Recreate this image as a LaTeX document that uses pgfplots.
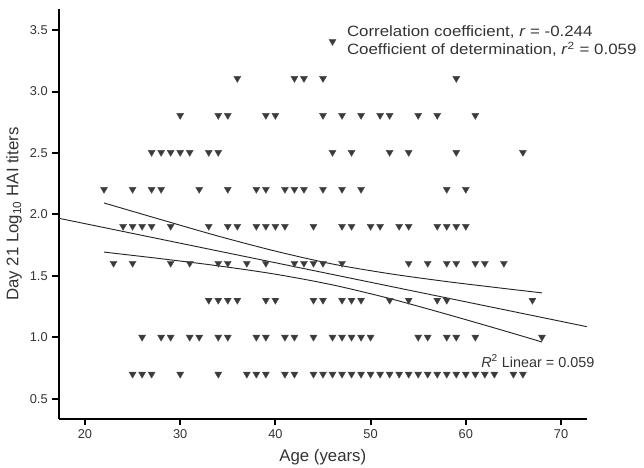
\documentclass[border=0pt]{standalone}
\usepackage{fontspec}
\setmainfont{Liberation Sans}
\usepackage{pgfplots}
\pgfplotsset{compat=1.18}
\usepackage{pgfplotstable}
\definecolor{txtgray}{HTML}{333333}
\definecolor{mkgray}{HTML}{3A3A3A}

% age (years) vs day 21 log10 HAI titer
\pgfplotstableread{
age titer
46 3.408
36 3.107
42 3.107
43 3.107
45 3.107
59 3.107
30 2.806
34 2.806
35 2.806
39 2.806
40 2.806
45 2.806
47 2.806
49 2.806
51 2.806
52 2.806
55 2.806
57 2.806
61 2.806
27 2.505
28 2.505
29 2.505
30 2.505
31 2.505
33 2.505
34 2.505
46 2.505
48 2.505
52 2.505
54 2.505
59 2.505
66 2.505
22 2.204
25 2.204
27 2.204
28 2.204
32 2.204
35 2.204
38 2.204
39 2.204
41 2.204
42 2.204
43 2.204
45 2.204
47 2.204
49 2.204
58 2.204
60 2.204
24 1.903
25 1.903
26 1.903
27 1.903
29 1.903
33 1.903
35 1.903
36 1.903
38 1.903
39 1.903
40 1.903
41 1.903
44 1.903
47 1.903
48 1.903
50 1.903
51 1.903
53 1.903
54 1.903
57 1.903
58 1.903
59 1.903
60 1.903
23 1.602
25 1.602
29 1.602
31 1.602
34 1.602
35 1.602
37 1.602
39 1.602
42 1.602
43 1.602
44 1.602
45 1.602
47 1.602
54 1.602
56 1.602
58 1.602
59 1.602
61 1.602
62 1.602
64 1.602
33 1.301
34 1.301
35 1.301
36 1.301
39 1.301
40 1.301
44 1.301
45 1.301
47 1.301
48 1.301
49 1.301
52 1.301
54 1.301
57 1.301
58 1.301
67 1.301
26 1.000
28 1.000
29 1.000
31 1.000
32 1.000
34 1.000
35 1.000
38 1.000
39 1.000
41 1.000
42 1.000
44 1.000
46 1.000
47 1.000
48 1.000
49 1.000
50 1.000
55 1.000
56 1.000
58 1.000
59 1.000
61 1.000
68 1.000
25 0.699
26 0.699
27 0.699
30 0.699
34 0.699
37 0.699
38 0.699
39 0.699
41 0.699
42 0.699
44 0.699
45 0.699
46 0.699
47 0.699
48 0.699
49 0.699
50 0.699
51 0.699
52 0.699
53 0.699
54 0.699
55 0.699
56 0.699
57 0.699
58 0.699
59 0.699
60 0.699
61 0.699
62 0.699
63 0.699
65 0.699
66 0.699
}\hai

% 95% band
\pgfplotstableread{
age upper lower
22 2.093 1.693
28 1.957 1.639
34 1.823 1.581
40 1.701 1.513
46 1.596 1.426
52 1.517 1.315
58 1.453 1.187
64 1.397 1.053
68 1.361 0.961
}\band

\begin{document}
\begin{tikzpicture}
\begin{axis}[
    name=ax,
    width=395.8pt, height=307pt,
    scale only axis,
    xmin=17.27, xmax=72.7,
    ymin=0.337, ymax=3.67,
    axis x line*=bottom,
    axis y line*=left,
    axis line style={line width=1.5pt, black},
    xtick={20,30,...,70},
    ytick={0.5,1.0,...,3.5},
    tick align=outside,
    major tick length=5pt,
    tick style={line width=1.5pt, black},
    yticklabel style={/pgf/number format/fixed, /pgf/number format/fixed zerofill, /pgf/number format/precision=1},
    /pgf/number format/assume math mode=true,
    ticklabel style={font=\fontsize{9.6}{11}\selectfont, text=txtgray},
    xlabel={Age (years)},
    ylabel={Day 21 Log\textsubscript{10} HAI titers},
    label style={font=\fontsize{12.6}{15}\selectfont, text=txtgray},
    xlabel style={at={(axis description cs:0.5,-0.0948)}, anchor=center},
    ylabel style={at={(axis description cs:-0.0852,0.5)}, anchor=center},
    clip=false,
]
\addplot[black!85, line width=0.7pt] coordinates {(17.27,1.968) (72.7,1.086)};
\addplot[black!85, line width=0.7pt, smooth] table[x=age, y=upper] {\band};
\addplot[black!85, line width=0.7pt, smooth] table[x=age, y=lower] {\band};
\addplot[only marks, mark=triangle*, mark size=3pt,
    mark options={rotate=180, fill=mkgray, draw=black!70, line width=0.3pt}]
    table[x=age, y=titer] {\hai};

\node[anchor=base west, xscale=1.13, font=\fontsize{11.2}{13}\selectfont, text=txtgray, inner sep=0pt]
    at (axis cs:47.49,3.448) {Correlation coefficient, \textit{r} = -0.244};
\node[anchor=base west, xscale=1.13, font=\fontsize{11.2}{13}\selectfont, text=txtgray, inner sep=0pt]
    at (axis cs:47.49,3.303) {Coefficient of determination, \textit{r}\textsuperscript{2} = 0.059};
\node[anchor=base west, font=\fontsize{10.8}{12}\selectfont, text=txtgray, inner sep=0pt]
    at (axis cs:61.6,0.755) {\textit{R}\textsuperscript{2} Linear = 0.059};
\end{axis}
\pgfresetboundingbox
\path[use as bounding box] ([shift={(-44.25pt,-36.98pt)}]ax.south west)
    rectangle ([shift={(42.98pt,6.98pt)}]ax.north east);
\end{tikzpicture}
\end{document}
